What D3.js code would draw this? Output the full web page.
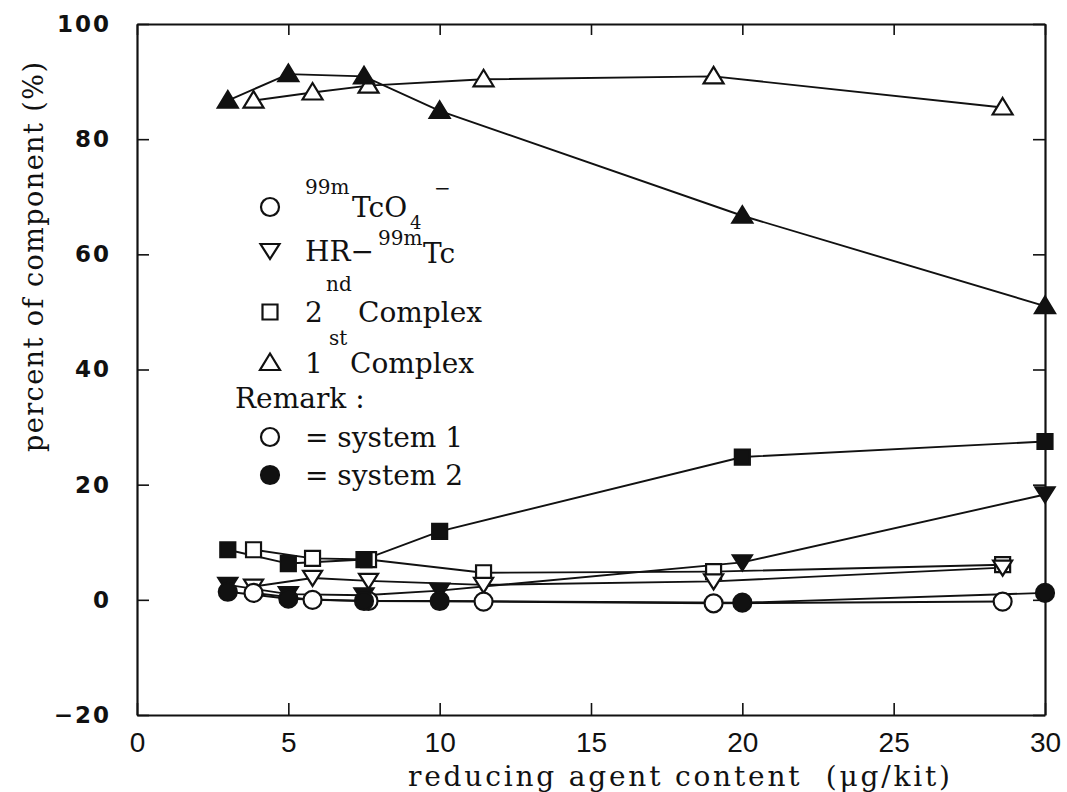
<!DOCTYPE html>
<html>
<head>
<meta charset="utf-8">
<script src="https://cdn.jsdelivr.net/npm/d3@7"></script>
<style>
  body { margin: 0; background: #fff; }
  svg { display: block; }
</style>
</head>
<body>
<svg id="chart" width="1067" height="792"></svg>
<script>
// Tick values
const xTicks = [0, 5, 10, 15, 20, 25, 30];
const yTicks = [-20, 0, 20, 40, 60, 80, 100];

// Reducing agent content (µg/kit) for each preparation system
const xSystem1 = [3.85, 5.8, 7.65, 11.45, 19.05, 28.6];
const xSystem2 = [3, 5, 7.5, 10, 20, 30];

// Percent of each component
const complex1System1 = [86.7, 88.1, 89.3, 90.4, 90.9, 85.5];
const complex1System2 = [86.7, 91.3, 90.9, 84.9, 66.7, 51.0];
const complex2System1 = [8.7, 7.2, 7.0, 4.7, 4.9, 6.1];
const complex2System2 = [8.7, 6.3, 7.0, 11.9, 24.8, 27.5];
const hrSystem1 = [2.3, 3.8, 3.3, 2.6, 3.2, 5.6];
const hrSystem2 = [2.6, 1.0, 0.8, 1.6, 6.5, 18.3];
const pertechnetateSystem1 = [1.2, 0.0, -0.2, -0.3, -0.6, -0.3];
const pertechnetateSystem2 = [1.4, 0.2, -0.2, -0.2, -0.5, 1.2];

const series = [
  { xs: xSystem1, ys: complex1System1, shape: "triangleUp", filled: false },
  { xs: xSystem1, ys: complex2System1, shape: "square", filled: false },
  { xs: xSystem1, ys: hrSystem1, shape: "triangleDown", filled: false },
  { xs: xSystem1, ys: pertechnetateSystem1, shape: "circle", filled: false },
  { xs: xSystem2, ys: complex1System2, shape: "triangleUp", filled: true },
  { xs: xSystem2, ys: complex2System2, shape: "square", filled: true },
  { xs: xSystem2, ys: hrSystem2, shape: "triangleDown", filled: true },
  { xs: xSystem2, ys: pertechnetateSystem2, shape: "circle", filled: true }
];

const svg = d3.select("#chart");
const plotLeft = 137, plotRight = 1045, plotTop = 24, plotBottom = 715;

const x = d3.scaleLinear().domain([0, 30]).range([plotLeft, plotRight]);
const y = d3.scaleLinear().domain([-20, 100]).range([plotBottom, plotTop]);

// Marker outlines, centred on (0,0)
const shapePaths = {
  square: "M-7.5,-7.5H7.5V7.5H-7.5Z",
  triangleUp: "M0,-9.5L10,7L-10,7Z",
  triangleDown: "M-9.5,-7L9.5,-7L0,8Z"
};

function drawMarker(g, shape, filled, cx, cy) {
  const fill = filled ? "#111" : "#fff";
  if (shape === "circle") {
    g.append("circle").attr("cx", cx).attr("cy", cy).attr("r", 9)
      .attr("fill", fill).attr("stroke", "#111").attr("stroke-width", 2.2);
  } else {
    g.append("path").attr("d", shapePaths[shape])
      .attr("transform", `translate(${cx},${cy})`)
      .attr("fill", fill).attr("stroke", "#111").attr("stroke-width", 2.2);
  }
}

// Axes (ticks point inward on all four sides)
const axisStyle = g => {
  g.selectAll(".domain").attr("stroke", "#111").attr("stroke-width", 2.2);
  g.selectAll(".tick line").attr("stroke", "#111").attr("stroke-width", 1.6);
};

svg.append("g").attr("transform", `translate(0,${plotBottom})`)
  .call(d3.axisBottom(x).tickValues(xTicks).tickSizeInner(-12).tickSizeOuter(0).tickPadding(17))
  .call(axisStyle)
  .call(g => g.selectAll("text")
    .attr("font-family", "Liberation Sans, Arial, sans-serif")
    .attr("font-size", 28).attr("fill", "#111"));

svg.append("g").attr("transform", `translate(0,${plotTop})`)
  .call(d3.axisTop(x).tickValues(xTicks).tickSizeInner(-11).tickSizeOuter(0).tickFormat(""))
  .call(axisStyle);

svg.append("g").attr("transform", `translate(${plotLeft},0)`)
  .call(d3.axisLeft(y).tickValues(yTicks).tickSizeInner(-12).tickSizeOuter(0).tickPadding(26))
  .call(axisStyle)
  .call(g => g.selectAll("text")
    .attr("font-family", "DejaVu Sans, sans-serif")
    .attr("font-weight", "bold")
    .attr("font-size", 23)
    .attr("letter-spacing", 2)
    .attr("fill", "#111"));

svg.append("g").attr("transform", `translate(${plotRight},0)`)
  .call(d3.axisRight(y).tickValues(yTicks).tickSizeInner(-12).tickSizeOuter(0).tickFormat(""))
  .call(axisStyle);

// Connecting lines
const line = d3.line();
const plot = svg.append("g");
series.forEach(s => {
  const pts = s.xs.map((v, i) => [x(v), y(s.ys[i])]);
  plot.append("path").attr("d", line(pts))
    .attr("fill", "none").attr("stroke", "#111").attr("stroke-width", 1.9);
});

// Markers: system 1 (open) first, system 2 (filled) on top
const markers = svg.append("g");
series.filter(s => !s.filled).concat(series.filter(s => s.filled)).forEach(s => {
  s.xs.forEach((v, i) => drawMarker(markers, s.shape, s.filled, x(v), y(s.ys[i])));
});

// Axis titles
svg.append("text")
  .attr("x", 408).attr("y", 786)
  .attr("textLength", 542).attr("lengthAdjust", "spacing")
  .attr("font-family", "DejaVu Serif").attr("font-size", 28).attr("fill", "#111")
  .attr("xml:space", "preserve")
  .text("reducing agent content  (\u03bcg/kit)");

svg.append("text")
  .attr("transform", "translate(43,257) rotate(-90)")
  .attr("text-anchor", "middle")
  .attr("textLength", 390).attr("lengthAdjust", "spacing")
  .attr("font-family", "DejaVu Serif").attr("font-size", 27).attr("fill", "#111")
  .text("percent of component (%)");

// Legend
const legend = svg.append("g")
  .attr("font-family", "DejaVu Serif").attr("fill", "#111");
const big = 28, small = 20;
const legendText = [
  { t: "99m", x: 305, y: 194, s: small },
  { t: "TcO", x: 352, y: 217, s: big },
  { t: "4", x: 410, y: 229, s: 18 },
  { t: "\u2212", x: 434, y: 195, s: small },
  { t: "HR\u2212", x: 305, y: 261, s: big },
  { t: "99m", x: 378, y: 245, s: small },
  { t: "Tc", x: 423, y: 263, s: big },
  { t: "2", x: 305, y: 322, s: big },
  { t: "nd", x: 326, y: 291, s: small },
  { t: "Complex", x: 358, y: 322, s: big },
  { t: "1", x: 305, y: 373, s: big },
  { t: "st", x: 329, y: 345, s: small },
  { t: "Complex", x: 350, y: 373, s: big },
  { t: "Remark :", x: 235, y: 408, s: big },
  { t: "= system 1", x: 305, y: 447, s: big },
  { t: "= system 2", x: 305, y: 485, s: big }
];
legendText.forEach(d => {
  legend.append("text").attr("x", d.x).attr("y", d.y)
    .attr("font-size", d.s).attr("xml:space", "preserve").text(d.t);
});
const legendMarkers = [
  { shape: "circle", filled: false, y: 207 },
  { shape: "triangleDown", filled: false, y: 251 },
  { shape: "square", filled: false, y: 312 },
  { shape: "triangleUp", filled: false, y: 363 },
  { shape: "circle", filled: false, y: 437 },
  { shape: "circle", filled: true, y: 475 }
];
legendMarkers.forEach(m => drawMarker(legend, m.shape, m.filled, 270, m.y));
</script>
</body>
</html>
